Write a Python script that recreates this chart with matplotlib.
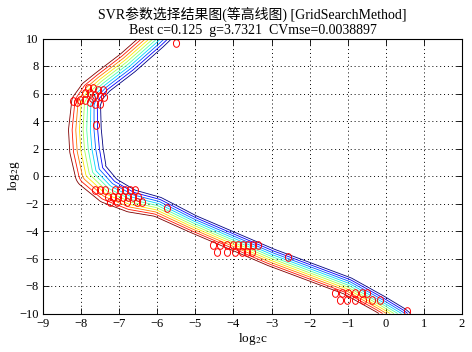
import numpy as np
import matplotlib
matplotlib.use("Agg")
import matplotlib.pyplot as plt
from matplotlib.path import Path

plt.rcParams['font.family'] = ['Liberation Serif', 'Noto Sans CJK SC']
plt.rcParams['mathtext.fontset'] = 'stix'
plt.rcParams['axes.unicode_minus'] = True

# Ridge of the CVmse surface (centre of the contour band)
ridge_c = [-5.75, -6.05, -6.78, -7.45, -7.72, -7.87, -7.90, -7.86, -7.74,
           -7.30, -6.70, -6.00, -5.06, -3.00, -1.00, -0.15, 0.37, 0.60]
ridge_g = [10.8, 10.0, 8.22, 6.80, 6.10, 5.30, 3.35, 1.89, 0.20,
           -1.00, -1.80, -2.23, -3.49, -5.93, -8.00, -9.31, -10.18, -10.7]
# half width of the band across the ridge (in log2c units, screen-isotropic)
ridge_w = [0.30, 0.30, 0.30, 0.30, 0.33, 0.38, 0.43, 0.44, 0.42,
           0.36, 0.30, 0.26, 0.23, 0.23, 0.23, 0.23, 0.23, 0.23]
n_levels = 10

# contour label positions (red marks)
label_c = [-7.82, -7.69, -7.56, -7.43, -7.90, -7.77, -7.64, -7.50, -7.40,
           -8.03, -7.90, -8.21, -8.11, -7.77, -7.64, -7.50, -7.71, -7.61, -5.51,
           -7.64, -7.50, -7.37, -7.11, -6.98, -6.85, -6.72, -6.59,
           -7.29, -7.16, -7.03, -6.90, -6.77, -6.64, -6.51,
           -7.24, -7.06, -6.80, -6.53, -6.40, -5.75,
           -4.54, -4.35, -4.17, -4.01, -3.88, -3.75, -3.62, -3.49, -3.36,
           -4.43, -4.17, -3.96, -3.78, -3.65, -3.51, -2.57,
           -1.34, -1.15, -0.99, -0.81, -0.63, -0.50,
           -1.20, -1.02, -0.81, -0.60, -0.36, -0.15, 0.55]
label_g = [6.40, 6.40, 6.25, 6.25, 6.04, 6.04, 5.89, 5.82, 5.75,
           5.53, 5.53, 5.45, 5.38, 5.38, 5.24, 5.24, 5.67, 3.71, 9.67,
           -1.02, -1.02, -1.02, -1.02, -1.02, -1.02, -1.02, -1.02,
           -1.53, -1.53, -1.53, -1.53, -1.53, -1.53, -1.53,
           -1.89, -1.89, -1.89, -1.89, -1.89, -2.33,
           -5.02, -5.02, -5.02, -5.02, -5.02, -5.02, -5.02, -5.02, -5.02,
           -5.53, -5.53, -5.53, -5.53, -5.53, -5.53, -5.89,
           -8.51, -8.51, -8.51, -8.51, -8.51, -8.51,
           -9.02, -9.02, -9.02, -9.02, -9.02, -9.02, -9.82]

title1 = 'SVR参数选择结果图(等高线图) [GridSearchMethod]'
title2 = 'Best c=0.125  g=3.7321  CVmse=0.0038897'

fig = plt.figure(figsize=(4.72, 3.52), dpi=100)
ax = fig.add_axes([43 / 472, 1 - 313.5 / 352, 419 / 472, 275 / 352])

# screen aspect: pixels per g unit relative to pixels per c unit
k = (275 / 20) / (419 / 11)

# signed distance of every grid point to the ridge polyline
cc, gg = np.meshgrid(np.linspace(-9, 2, 221), np.linspace(-10, 10, 401))
px, py = cc, gg * k
P = np.column_stack([ridge_c, np.array(ridge_g) * k])
best_d = np.full(cc.shape, np.inf)
Z = np.zeros(cc.shape)
for i in range(len(P) - 1):
    a, b = P[i], P[i + 1]
    ab = b - a
    t = np.clip(((px - a[0]) * ab[0] + (py - a[1]) * ab[1]) / (ab @ ab), 0, 1)
    dx = px - (a[0] + t * ab[0])
    dy = py - (a[1] + t * ab[1])
    d = np.hypot(dx, dy)
    side = np.sign(ab[0] * (py - a[1]) - ab[1] * (px - a[0]))
    w = ridge_w[i] + t * (ridge_w[i + 1] - ridge_w[i])
    m = d < best_d
    best_d[m] = d[m]
    Z[m] = (-side * d / w)[m]

levels = np.linspace(-1, 1, n_levels)
ax.contour(cc, gg, Z, levels=levels, cmap='jet', linewidths=0.6)

theta = np.linspace(0, 2 * np.pi, 40)
ell = Path(np.column_stack([0.8 * np.cos(theta), np.sin(theta)]))
ax.plot(label_c, label_g, linestyle='none', marker=ell, ms=5.5,
        mfc='none', mec='red', mew=0.7)

ax.set_xlim(-9, 2)
ax.set_ylim(-10, 10)
ax.set_xticks(np.arange(-9, 3, 1))
ax.set_yticks(np.arange(-10, 11, 2))
ax.tick_params(direction='in', top=True, right=True, length=4, width=0.6,
               labelsize=9, pad=3)
ax.grid(True, linestyle=(0, (1, 3)), color='black', linewidth=0.7)
for s in ax.spines.values():
    s.set_linewidth(0.8)

ax.set_xlabel('log$_2$c', fontsize=9.5, labelpad=1)
ax.set_ylabel('log$_2$g', fontsize=9.5)
ax.yaxis.set_label_coords(-0.05, 0.5)
ax.set_title(title1 + '\n' + title2, fontsize=10, linespacing=1.2, pad=3)

fig.savefig('out.png', dpi=100)
